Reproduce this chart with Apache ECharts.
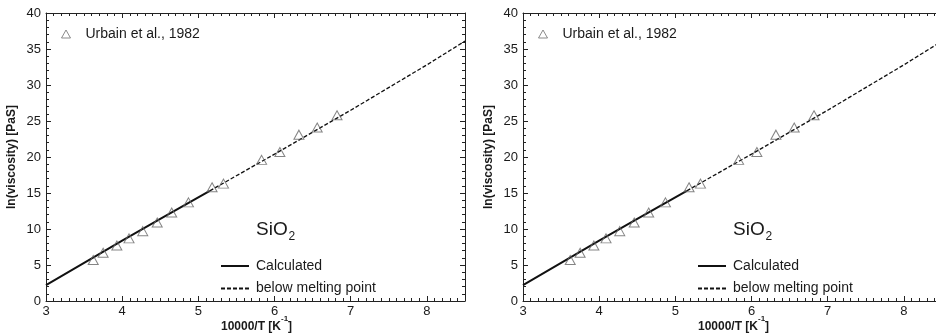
<!DOCTYPE html>
<html>
<head>
<meta charset="utf-8">
<script src="https://cdn.jsdelivr.net/npm/echarts@6/dist/echarts.min.js"></script>
<style>
  html, body { margin: 0; padding: 0; background: #fff; }
  #chart { width: 936px; height: 335px; }
</style>
</head>
<body>
<div id="chart"></div>
<script>
// Measured viscosity of SiO2 melts (Urbain et al., 1982): 10000/T and ln(viscosity)
const urbainX = [3.62, 3.75, 3.93, 4.09, 4.27, 4.46, 4.65, 4.87, 5.18, 5.33, 5.83, 6.07, 6.32, 6.56, 6.82];
const urbainY = [5.7, 6.7, 7.7, 8.7, 9.7, 10.9, 12.3, 13.7, 15.8, 16.3, 19.6, 20.7, 23.1, 24.1, 25.8];

// Calculated curve above the melting point
const calcX = [3.0, 3.5, 4.0, 4.5, 5.15];
const calcY = [2.2, 5.3, 8.4, 11.4, 15.3];

// Calculated curve extrapolated below the melting point
const belowX = [5.15, 6.0, 7.0, 8.0, 8.5];
const belowY = [15.3, 20.4, 26.5, 32.8, 36.1];

// Axis tick labels
const xTickLabels = [3, 4, 5, 6, 7, 8];
const yTickLabels = [0, 5, 10, 15, 20, 25, 30, 35, 40];

const FONT = '"Liberation Sans", Arial, Helvetica, sans-serif';
const INK = '#1a1a1a';
const AXIS = '#222';

// Two identical panels side by side
const panels = [
  { left: 46, top: 13, width: 419, height: 288 },
  { left: 523, top: 13, width: 419, height: 288 }
];

const zip = (xs, ys) => xs.map((x, i) => [x, ys[i]]);

const grid = [], xAxis = [], yAxis = [], series = [], legend = [], graphic = [];

panels.forEach((p, g) => {
  grid.push({ left: p.left, top: p.top, width: p.width, height: p.height, containLabel: false, outerBoundsMode: 'none' });

  const xBase = { type: 'value', gridIndex: g, min: 3, max: 8.5, splitLine: { show: false } };
  const line = { show: true, lineStyle: { color: AXIS, width: 1 } };

  // bottom: major ticks with labels
  xAxis.push(Object.assign({}, xBase, {
    position: 'bottom', interval: 1,
    axisLine: line,
    axisTick: { show: true, inside: true, length: 5, lineStyle: { color: AXIS } },
    axisLabel: {
      margin: 4, fontSize: 13, fontFamily: FONT, color: INK,
      formatter: v => (xTickLabels.includes(v) ? String(v) : '')
    }
  }));
  // bottom: minor ticks every 0.1
  xAxis.push(Object.assign({}, xBase, {
    position: 'bottom', interval: 0.1,
    axisLine: { show: false },
    axisTick: { show: true, inside: true, length: 3, lineStyle: { color: AXIS } },
    axisLabel: { show: false }
  }));
  // top frame: major ticks
  xAxis.push(Object.assign({}, xBase, {
    position: 'top', interval: 1,
    axisLine: line,
    axisTick: { show: true, inside: true, length: 5, lineStyle: { color: AXIS } },
    axisLabel: { show: false }
  }));
  // top frame: minor ticks
  xAxis.push(Object.assign({}, xBase, {
    position: 'top', interval: 0.1,
    axisLine: { show: false },
    axisTick: { show: true, inside: true, length: 3, lineStyle: { color: AXIS } },
    axisLabel: { show: false }
  }));

  const yBase = {
    type: 'value', gridIndex: g, min: 0, max: 40, interval: 5,
    splitLine: { show: false },
    axisLine: line,
    axisTick: { show: true, inside: true, length: 5, lineStyle: { color: AXIS } },
    minorTick: { show: true, splitNumber: 5, length: 3, lineStyle: { color: AXIS } }
  };
  yAxis.push(Object.assign({}, yBase, {
    position: 'left',
    axisLabel: {
      margin: 5, fontSize: 13, fontFamily: FONT, color: INK,
      formatter: v => (yTickLabels.includes(v) ? String(v) : '')
    },
    name: 'ln(viscosity) [PaS]',
    nameLocation: 'middle', nameGap: 28,
    nameTextStyle: { fontSize: 12, fontWeight: 'bold', fontFamily: FONT, color: INK }
  }));
  yAxis.push(Object.assign({}, yBase, { position: 'right', axisLabel: { show: false } }));

  const xi = g * 4, yi = g * 2;
  series.push({
    name: 'Calculated', type: 'line', xAxisIndex: xi, yAxisIndex: yi,
    data: zip(calcX, calcY), showSymbol: false,
    lineStyle: { color: '#111', width: 2 }, itemStyle: { color: 'rgba(0,0,0,0)', borderWidth: 0 },
    silent: true, animation: false, z: 2
  });
  series.push({
    name: 'below melting point', type: 'line', xAxisIndex: xi, yAxisIndex: yi,
    data: zip(belowX, belowY), showSymbol: false,
    lineStyle: { color: '#111', width: 1.3, type: [4, 2] }, itemStyle: { color: 'rgba(0,0,0,0)', borderWidth: 0 },
    silent: true, animation: false, z: 2
  });
  series.push({
    name: 'Urbain et al., 1982', type: 'scatter', xAxisIndex: xi, yAxisIndex: yi,
    data: zip(urbainX, urbainY), symbol: 'triangle', symbolSize: [10, 9],
    itemStyle: { color: 'rgba(255,255,255,0)', borderColor: '#666', borderWidth: 1 },
    silent: true, animation: false, z: 3
  });

  const dx = p.left - panels[0].left;
  legend.push({
    data: ['Urbain et al., 1982'], left: 61 + dx, top: 27, padding: 0,
    icon: 'triangle', itemWidth: 9, itemHeight: 8, selectedMode: false,
    itemStyle: { color: 'rgba(255,255,255,0)', borderColor: '#6f6f6f', borderWidth: 1 },
    textStyle: { fontSize: 14, fontFamily: FONT, color: INK, padding: [0, 0, 0, 10] }
  });
  legend.push({
    data: ['Calculated', 'below melting point'], left: 220 + dx, top: 259, padding: 0,
    orient: 'vertical', itemWidth: 28, itemHeight: 14, itemGap: 8.6, selectedMode: false,
    itemStyle: { opacity: 0 },
    textStyle: { fontSize: 14, fontFamily: FONT, color: INK, padding: [0, 0, 0, 2] }
  });

  // compound label SiO2 with subscript
  graphic.push({
    type: 'text', x: 256 + dx, y: 230, silent: true,
    style: { text: 'SiO', fontSize: 19, fontFamily: FONT, fill: INK, verticalAlign: 'middle' }
  });
  graphic.push({
    type: 'text', x: 288.5 + dx, y: 236.5, silent: true,
    style: { text: '2', fontSize: 12, fontFamily: FONT, fill: INK, verticalAlign: 'middle' }
  });

  // x-axis title with superscript exponent
  graphic.push({
    type: 'text', x: 221 + dx, y: 327, silent: true,
    style: { text: '10000/T [K', fontSize: 12, fontWeight: 'bold', fontFamily: FONT, fill: INK, verticalAlign: 'middle' }
  });
  graphic.push({
    type: 'text', x: 281 + dx, y: 319, silent: true,
    style: { text: '-1', fontSize: 8, fontWeight: 'bold', fontFamily: FONT, fill: INK, verticalAlign: 'middle' }
  });
  graphic.push({
    type: 'text', x: 288 + dx, y: 327, silent: true,
    style: { text: ']', fontSize: 12, fontWeight: 'bold', fontFamily: FONT, fill: INK, verticalAlign: 'middle' }
  });
});

const chart = echarts.init(document.getElementById('chart'), null, { renderer: 'canvas' });
chart.setOption({
  backgroundColor: '#fff',
  animation: false,
  grid, xAxis, yAxis, series, legend, graphic
});
</script>
</body>
</html>
